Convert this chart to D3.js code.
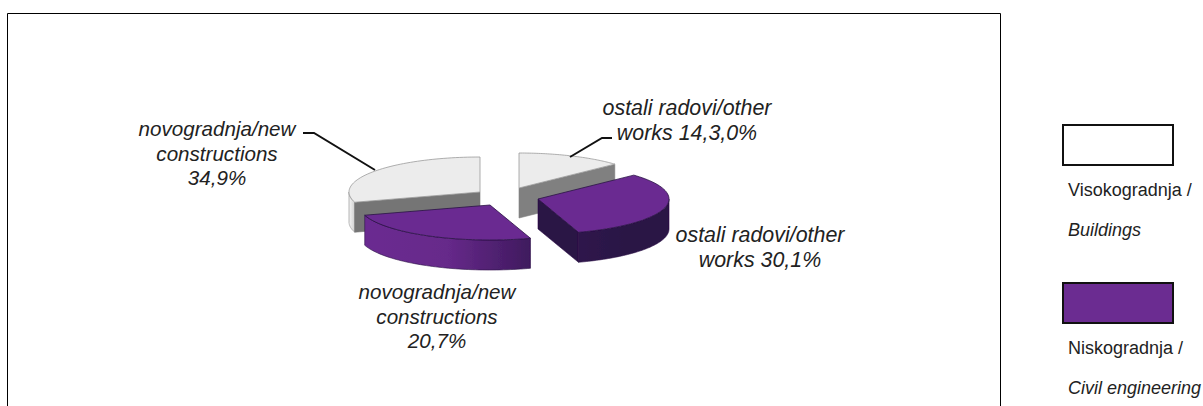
<!DOCTYPE html>
<html>
<head>
<meta charset="utf-8">
<script src="https://cdn.jsdelivr.net/npm/d3@7"></script>
<style>
  html, body { margin: 0; padding: 0; background: #fff; }
  svg { display: block; }
  text { font-family: "Liberation Sans", Arial, sans-serif; fill: #222; }
</style>
</head>
<body>
<svg id="svg" width="1203" height="406"></svg>
<script>
// clockwise from 12 o'clock, as in the picture
const sliceNames = ['buildingsOther', 'civilOther', 'civilNew', 'buildingsNew']
const sliceValues = [14.3, 30.1, 20.7, 34.9]

const labelLines = [
  ['ostali radovi/other', 'works 14,3,0%'],
  ['ostali radovi/other', 'works 30,1%'],
  ['novogradnja/new', 'constructions', '20,7%'],
  ['novogradnja/new', 'constructions', '34,9%']
]

const legendNames = ['Visokogradnja /', 'Niskogradnja /']
const legendNamesEn = ['Buildings', 'Civil engineering']

const svg = d3.select('#svg')

const rx = 131
const ry = 35
const depth = 30

// each slice is pulled away from the middle of the pie by its own amount
const explode = {
  buildingsOther: [519, 188],
  civilOther: [538, 199],
  civilNew: [490, 205],
  buildingsNew: [480, 192]
}

const topColor = { buildingsOther: '#ececec', civilOther: '#6b2c91', civilNew: '#6b2c91', buildingsNew: '#ececec' }
const faceColor = { buildingsOther: '#808080', civilOther: '#2a1245', buildingsNew: '#757575' }

// the 3D view squeezes the slices, so shares do not land on their true angle
const angleScale = d3.scaleLinear()
  .domain([0, ...d3.cumsum(sliceValues)].map(d => d * 3.6))
  .range([0, 47, 162, 253, 360])

const slices = d3.pie().sort(null).value(d => d)(sliceValues).map((d, i) => {
  return {
    name: sliceNames[i],
    start: angleScale(d.startAngle * 180 / Math.PI) * Math.PI / 180,
    end: angleScale(d.endAngle * 180 / Math.PI) * Math.PI / 180
  }
})

const px = a => rx * Math.sin(a)
const py = a => -ry * Math.cos(a)

function arcAngles(a0, a1) {
  return d3.range(0, 61).map(i => a0 + (a1 - a0) * i / 60)
}

const topLine = d3.line().x(a => px(a)).y(a => py(a))
const wallArea = d3.area().x(a => px(a)).y0(a => py(a)).y1(a => py(a) + depth)

// gradients for the outer walls
const defs = svg.append('defs')
function wallGradient(id, stops) {
  const g = defs.append('linearGradient').attr('id', id)
  stops.forEach((c, i) => {
    g.append('stop').attr('offset', i / (stops.length - 1)).attr('stop-color', c)
  })
}
wallGradient('wallGrey', ['#f4f4f4', '#d0d0d0'])
wallGradient('wallCivil', ['#6b2c91', '#66298a', '#3f1a5e'])
wallGradient('wallDark', ['#2f144c', '#2a1245', '#2a1245'])
defs.append('filter').attr('id', 'soft')
  .append('feGaussianBlur').attr('stdDeviation', 0.35)

// frame, bottom side is cut off by the picture
svg.append('path')
  .attr('d', d3.line()([[7.5, 406], [7.5, 13.5], [1000.5, 13.5], [1000.5, 406]]))
  .attr('fill', 'none')
  .attr('stroke', '#000')

const pie = svg.append('g').attr('filter', 'url(#soft)')

function drawSlice(s) {
  const o = explode[s.name]
  const g = pie.append('g').attr('transform', `translate(${o[0]},${o[1]})`)

  // outer wall, only the part facing the viewer
  let wallStart = Math.max(s.start, Math.PI / 2)
  let wallEnd = Math.min(s.end, Math.PI * 1.5)
  if (wallEnd > wallStart) {
    g.append('path')
      .attr('d', wallArea(arcAngles(wallStart, wallEnd)))
      .attr('fill', s.name === 'buildingsNew' ? 'url(#wallGrey)' : s.name === 'civilNew' ? 'url(#wallCivil)' : 'url(#wallDark)')
      .attr('stroke', s.name === 'buildingsNew' ? '#888' : '#2a1245')
      .attr('stroke-width', 0.6)
  }

  // cut face along the edge that looks towards the viewer
  if (faceColor[s.name]) {
    const a = s.name === 'buildingsNew' ? s.start : s.end
    const pts = [[0, 0], [px(a), py(a)], [px(a), py(a) + depth], [0, depth]]
    g.append('path')
      .attr('d', d3.line()(pts) + 'Z')
      .attr('fill', faceColor[s.name])
      .attr('stroke', faceColor[s.name])
      .attr('stroke-width', 0.6)
  }

  // top of the slice
  g.append('path')
    .attr('d', 'M0,0L' + topLine(arcAngles(s.start, s.end)).slice(1) + 'Z')
    .attr('fill', topColor[s.name])
    .attr('stroke', s.name.startsWith('civil') ? '#2a1245' : '#9a9a9a')
    .attr('stroke-width', 0.8)
}

// painter's order, back slices first
const drawOrder = ['buildingsOther', 'buildingsNew', 'civilOther', 'civilNew']
drawOrder.forEach(name => drawSlice(slices.find(s => s.name === name)))

// leader lines
const leaders = [
  [[303, 133], [314, 133], [375, 170]],
  [[612, 138], [602, 138], [570, 157]]
]
leaders.forEach(l => {
  svg.append('path')
    .attr('d', d3.line()(l))
    .attr('fill', 'none')
    .attr('stroke', '#111')
    .attr('stroke-width', 2)
})

// slice labels
const labelPos = [[687, 115], [760, 242], [437, 299], [217, 136]]
const labelSize = [21.4, 21.4, 20.6, 20.6]
labelLines.forEach((lines, i) => {
  const t = svg.append('text')
    .attr('text-anchor', 'middle')
    .attr('font-size', labelSize[i])
    .attr('font-style', 'italic')
  lines.forEach((line, j) => {
    t.append('tspan')
      .attr('x', labelPos[i][0])
      .attr('y', labelPos[i][1] + j * 24.5)
      .text(line)
  })
})

// legend
const legendBoxes = [125, 283]
legendNames.forEach((name, i) => {
  const y = legendBoxes[i]
  svg.append('rect')
    .attr('x', 1063)
    .attr('y', y)
    .attr('width', 110)
    .attr('height', 40)
    .attr('fill', i === 0 ? '#fff' : '#6b2c91')
    .attr('stroke', '#111')
    .attr('stroke-width', 2)
  svg.append('text')
    .attr('x', 1068)
    .attr('y', y + 71)
    .attr('font-size', 18)
    .text(name)
  svg.append('text')
    .attr('x', 1068)
    .attr('y', y + 110.5)
    .attr('font-size', 18)
    .attr('font-style', 'italic')
    .text(legendNamesEn[i])
})
</script>
</body>
</html>
